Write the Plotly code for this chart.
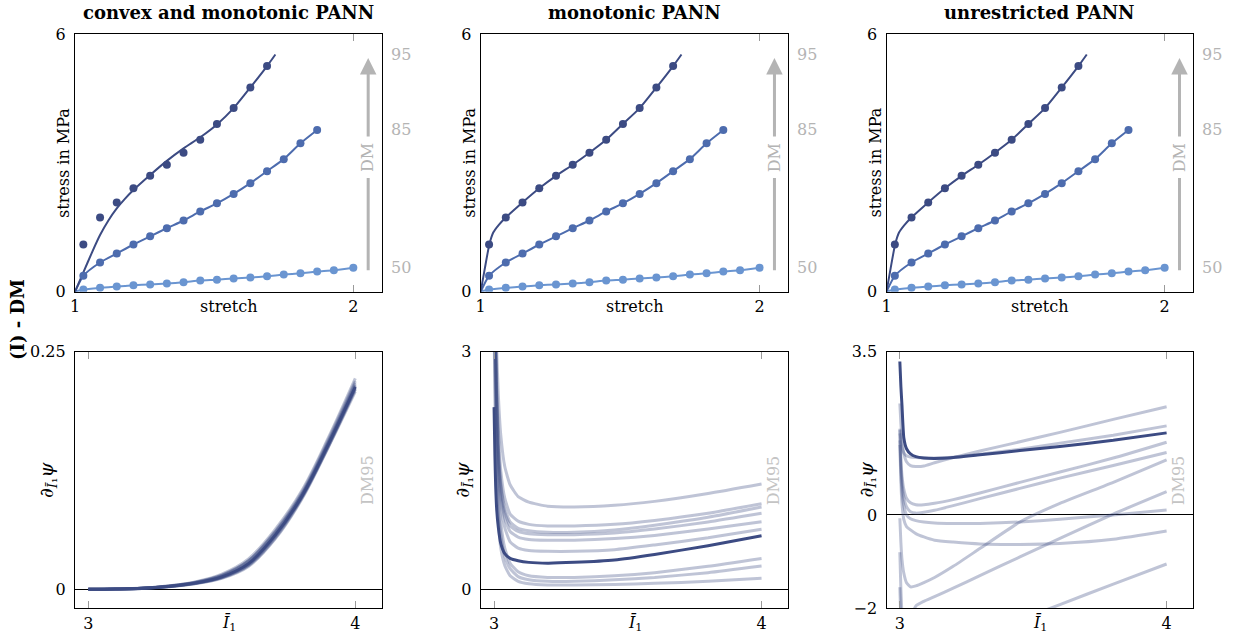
import plotly.graph_objects as go

# ---------------- data: uniaxial stress-stretch (shared across models) ----------------
STRETCH_95 = [1.03, 1.09, 1.15, 1.21, 1.27, 1.33, 1.39, 1.45, 1.51, 1.57, 1.63, 1.69]
STRESS_95 = [1.10, 1.73, 2.08, 2.41, 2.70, 2.96, 3.24, 3.54, 3.91, 4.28, 4.76, 5.26]

STRETCH_85 = [1.03, 1.09, 1.15, 1.21, 1.27, 1.33, 1.39, 1.45, 1.51, 1.57, 1.63, 1.69,
              1.75, 1.81, 1.87]
STRESS_85 = [0.37, 0.68, 0.89, 1.10, 1.29, 1.48, 1.66, 1.87, 2.06, 2.28, 2.53, 2.81,
             3.09, 3.46, 3.77]

STRETCH_50 = [1.03, 1.09, 1.15, 1.21, 1.27, 1.33, 1.39, 1.45, 1.51, 1.57, 1.63, 1.69,
              1.75, 1.81, 1.87, 1.93, 2.00]
STRESS_50 = [0.05, 0.09, 0.12, 0.15, 0.17, 0.19, 0.22, 0.26, 0.28, 0.31, 0.33, 0.36,
             0.40, 0.43, 0.47, 0.50, 0.56]

# ---------------- model predictions (stress) ----------------
# convex and monotonic PANN, DM95
CONV_95_X = [1.0, 1.03, 1.06, 1.09, 1.12, 1.15, 1.18, 1.21, 1.27, 1.33, 1.39, 1.45,
             1.51, 1.57, 1.63, 1.69, 1.72]
CONV_95_Y = [0.0, 0.45, 0.90, 1.32, 1.66, 1.94, 2.17, 2.37, 2.72, 3.05, 3.34, 3.60,
             3.90, 4.28, 4.76, 5.26, 5.53]
# monotonic / unrestricted PANN, DM95
MONO_95_X = [1.0, 1.015, 1.031, 1.045, 1.065, 1.09, 1.15, 1.21, 1.27, 1.33, 1.39, 1.45,
             1.51, 1.57, 1.63, 1.69, 1.72]
MONO_95_Y = [0.0, 0.55, 1.10, 1.38, 1.56, 1.73, 2.08, 2.41, 2.70, 2.96, 3.24, 3.54,
             3.91, 4.28, 4.76, 5.26, 5.53]
# DM85 / DM50 model curves (all three models)
MODEL_85_X = [1.0, 1.03, 1.09, 1.15, 1.21, 1.27, 1.33, 1.39, 1.45, 1.51, 1.57, 1.63,
              1.69, 1.75, 1.81, 1.87]
MODEL_85_Y = [0.0, 0.37, 0.68, 0.89, 1.10, 1.29, 1.48, 1.66, 1.87, 2.06, 2.28, 2.53,
              2.81, 3.09, 3.46, 3.77]
MODEL_50_X = [1.0, 1.03, 1.09, 1.15, 1.21, 1.27, 1.33, 1.39, 1.45, 1.51, 1.57, 1.63,
              1.69, 1.75, 1.81, 1.87, 1.93, 2.00]
MODEL_50_Y = [0.0, 0.05, 0.09, 0.12, 0.15, 0.17, 0.19, 0.22, 0.26, 0.28, 0.31, 0.33,
              0.36, 0.40, 0.43, 0.47, 0.50, 0.56]

DM_LABELS = ["95", "85", "50"]

# ---------------- derivative of the potential w.r.t. I1 ----------------
I1_CONV = [3.0, 3.1, 3.2, 3.3, 3.4, 3.5, 3.6, 3.7, 3.8, 3.9, 4.0]
CONV_DARK = [0, 0.0003, 0.0010, 0.0030, 0.0065, 0.0130, 0.027, 0.057, 0.098, 0.153, 0.213]
CONV_LIGHT = [
    [0, 0.0004, 0.0013, 0.0036, 0.0078, 0.0160, 0.032, 0.063, 0.104, 0.160, 0.222],
    [0, 0.0004, 0.0012, 0.0034, 0.0074, 0.0150, 0.030, 0.061, 0.102, 0.158, 0.219],
    [0, 0.0003, 0.0011, 0.0032, 0.0070, 0.0140, 0.029, 0.059, 0.100, 0.156, 0.217],
    [0, 0.0003, 0.0010, 0.0031, 0.0068, 0.0135, 0.028, 0.058, 0.099, 0.154, 0.215],
    [0, 0.0003, 0.0010, 0.0029, 0.0063, 0.0125, 0.026, 0.056, 0.097, 0.152, 0.211],
    [0, 0.0002, 0.0009, 0.0027, 0.0060, 0.0120, 0.025, 0.054, 0.096, 0.151, 0.210],
    [0, 0.0002, 0.0008, 0.0026, 0.0058, 0.0115, 0.024, 0.053, 0.095, 0.150, 0.208],
    [0, 0.0003, 0.0011, 0.0033, 0.0072, 0.0145, 0.030, 0.060, 0.100, 0.155, 0.214],
    [0, 0.0002, 0.0009, 0.0028, 0.0061, 0.0122, 0.0255, 0.055, 0.097, 0.151, 0.212],
]

I1_MONO = [3.0, 3.003, 3.006, 3.01, 3.016, 3.025, 3.04, 3.06, 3.09, 3.13, 3.2, 3.3,
           3.45, 3.6, 3.8, 4.0]
MONO_DARK = [2.3, 1.7, 1.3, 1.0, 0.78, 0.58, 0.45, 0.39, 0.36, 0.34, 0.33, 0.34,
             0.37, 0.44, 0.55, 0.677]
MONO_LIGHT = [
    [5.0, 4.2, 3.6, 3.0, 2.45, 1.95, 1.55, 1.32, 1.17, 1.10, 1.05, 1.04, 1.06, 1.11, 1.21, 1.33],
    [4.8, 4.0, 3.3, 2.6, 2.0, 1.5, 1.15, 0.95, 0.86, 0.82, 0.80, 0.80, 0.82, 0.87, 0.96, 1.08],
    [4.6, 3.8, 3.1, 2.4, 1.8, 1.35, 1.02, 0.85, 0.77, 0.74, 0.72, 0.72, 0.75, 0.81, 0.91, 1.04],
    [4.5, 3.7, 3.0, 2.35, 1.75, 1.3, 0.97, 0.80, 0.73, 0.70, 0.69, 0.69, 0.71, 0.76, 0.85, 0.96],
    [4.4, 3.6, 2.9, 2.25, 1.65, 1.2, 0.90, 0.73, 0.66, 0.63, 0.62, 0.62, 0.64, 0.68, 0.76, 0.854],
    [4.3, 3.5, 2.8, 2.15, 1.55, 1.1, 0.78, 0.60, 0.52, 0.49, 0.48, 0.48, 0.50, 0.56, 0.65, 0.757],
    [4.0, 3.2, 2.5, 1.9, 1.3, 0.85, 0.52, 0.33, 0.22, 0.17, 0.15, 0.15, 0.17, 0.21, 0.29, 0.39],
    [3.6, 2.8, 2.1, 1.55, 1.05, 0.70, 0.42, 0.26, 0.16, 0.12, 0.10, 0.10, 0.12, 0.15, 0.21, 0.294],
    [3.3, 2.5, 1.85, 1.3, 0.85, 0.52, 0.30, 0.17, 0.10, 0.07, 0.055, 0.055, 0.06, 0.075, 0.10, 0.139],
]

I1_UNRES = [3.0, 3.004, 3.008, 3.015, 3.025, 3.04, 3.06, 3.09, 3.13, 3.2, 3.3, 3.45,
            3.6, 3.8, 4.0]
UNRES_DARK = [3.29, 2.75, 2.35, 1.65, 1.42, 1.31, 1.25, 1.22, 1.21, 1.23, 1.29, 1.38,
              1.47, 1.60, 1.76]
UNRES_LIGHT = [
    [2.39, 1.95, 1.62, 1.32, 1.14, 1.06, 1.04, 1.05, 1.12, 1.23, 1.37, 1.57, 1.77, 2.05, 2.32],
    [1.82, 1.60, 1.45, 1.33, 1.27, 1.24, 1.23, 1.22, 1.22, 1.24, 1.30, 1.41, 1.54, 1.71, 1.91],
    [1.85, 1.20, 0.85, 0.55, 0.36, 0.26, 0.22, 0.22, 0.25, 0.33, 0.47, 0.70, 0.92, 1.22, 1.56],
    [1.75, 1.05, 0.70, 0.38, 0.18, 0.07, 0.04, 0.06, 0.10, 0.20, 0.35, 0.57, 0.79, 1.06, 1.34],
    [1.60, 0.90, 0.50, 0.20, 0.00, -0.08, -0.12, -0.15, -0.17, -0.18, -0.18, -0.15, -0.09, 0.00, 0.107],
    [1.50, 0.70, 0.25, -0.10, -0.25, -0.32, -0.40, -0.47, -0.54, -0.58, -0.62, -0.63, -0.61, -0.52, -0.343],
    [-0.07, -0.60, -0.95, -1.25, -1.45, -1.54, -1.52, -1.45, -1.34, -1.10, -0.72, -0.15, 0.25, 0.70, 1.18],
    [-0.80, -1.60, -2.10, -2.40, -2.40, -2.20, -1.95, -1.85, -1.75, -1.57, -1.30, -0.90, -0.50, 0.02, 0.50],
    [-1.55, -2.30, -2.80, -3.10, -3.20, -3.20, -3.15, -3.10, -3.00, -2.85, -2.60, -2.25, -1.92, -1.48, -1.05],
]

# ---------------- styling ----------------
FONT = "DejaVu Serif"
C95, C85, C50 = "#3c4b83", "#4d6cae", "#6a95d1"
LIGHT = "rgba(60,75,131,0.33)"
GREY = "#b4b4b4"
TICK_GREY = "#9a9a9a"

W, H = 1233, 639
COLS = [(75, 382), (480.7, 788.3), (886.5, 1193.3)]
TOP_ROW = (34.3, 291.7)
BOT_ROW = (351.7, 608.3)


def xdom(c):
    return [c[0] / W, c[1] / W]


def ydom(r):
    return [1 - r[1] / H, 1 - r[0] / H]


fig = go.Figure()


def add(trace, i):
    trace.update(xaxis="x" if i == 1 else f"x{i}", yaxis="y" if i == 1 else f"y{i}",
                 showlegend=False, hoverinfo="skip")
    fig.add_trace(trace)


# top row: stress vs stretch
for i, m95 in zip([1, 2, 3], [(CONV_95_X, CONV_95_Y), (MONO_95_X, MONO_95_Y),
                              (MONO_95_X, MONO_95_Y)]):
    for (mx, my, col) in [(MODEL_50_X, MODEL_50_Y, C50), (MODEL_85_X, MODEL_85_Y, C85),
                          (m95[0], m95[1], C95)]:
        add(go.Scatter(x=mx, y=my, mode="lines",
                       line=dict(color=col, width=2, shape="spline", smoothing=0.6)), i)
    for (sx, sy, col) in [(STRETCH_50, STRESS_50, C50), (STRETCH_85, STRESS_85, C85),
                          (STRETCH_95, STRESS_95, C95)]:
        add(go.Scatter(x=sx, y=sy, mode="markers",
                       marker=dict(color=col, size=8)), i)

# bottom row: derivative curves
for i, (xs, light, dark) in zip([4, 5, 6], [(I1_CONV, CONV_LIGHT, CONV_DARK),
                                            (I1_MONO, MONO_LIGHT, MONO_DARK),
                                            (I1_UNRES, UNRES_LIGHT, UNRES_DARK)]):
    smooth = 1.0 if i == 4 else 0.5
    for ys in light:
        add(go.Scatter(x=xs, y=ys, mode="lines",
                       line=dict(color=LIGHT, width=3, shape="spline", smoothing=smooth)), i)
    add(go.Scatter(x=xs, y=dark, mode="lines",
                   line=dict(color=C95, width=3, shape="spline", smoothing=smooth)), i)

axis_font = dict(family=FONT, size=16, color="black")
layout = dict(width=W, height=H, margin=dict(l=0, r=0, t=0, b=0, autoexpand=False),
              plot_bgcolor="white", paper_bgcolor="white",
              font=dict(family=FONT, size=16, color="black"))

Y_TOP = dict(range=[0, 6], tickvals=[0, 6], ticktext=["0", "6"])
Y_BOT = [
    dict(range=[-0.02, 0.25], tickvals=[0, 0.25], ticktext=["0", "0.25"]),
    dict(range=[-0.24, 3], tickvals=[0, 3], ticktext=["0", "3"]),
    dict(range=[-2, 3.5], tickvals=[-2, 0, 3.5], ticktext=["\u22122", "0", "3.5"]),
]

for i in range(1, 7):
    top = i <= 3
    col = COLS[(i - 1) % 3]
    xk = "xaxis" if i == 1 else f"xaxis{i}"
    yk = "yaxis" if i == 1 else f"yaxis{i}"
    ya = "y" if i == 1 else f"y{i}"
    xa = "x" if i == 1 else f"x{i}"
    xr = [1, 2.103] if top else [2.95, 4.1]
    xt = [1, 2] if top else [3, 4]
    layout[xk] = dict(domain=xdom(col), anchor=ya, range=xr, tickvals=xt,
                      ticktext=[str(v) for v in xt], ticks="inside", ticklen=7,
                      tickcolor=TICK_GREY, tickwidth=1, showline=True, linecolor="black",
                      linewidth=1.3, mirror="ticks", showgrid=False, zeroline=False,
                      tickfont=axis_font, ticklabelstandoff=0, automargin=False)
    yd = Y_TOP if top else Y_BOT[i - 4]
    layout[yk] = dict(domain=ydom(TOP_ROW if top else BOT_ROW), anchor=xa, ticks="",
                      showline=True, linecolor="black", linewidth=1.3, mirror=True,
                      showgrid=False, zeroline=not top, zerolinecolor="black",
                      zerolinewidth=1, tickfont=axis_font, ticklabelstandoff=5,
                      automargin=False, **yd)

fig.update_layout(**layout)

ann = []
TITLES = ["<b>convex and monotonic PANN</b>", "<b>monotonic PANN</b>",
          "<b>unrestricted PANN</b>"]
for k, (t, col) in enumerate(zip(TITLES, COLS)):
    ann.append(dict(text=t, xref="paper", yref="paper", x=(col[0] + col[1]) / 2 / W,
                    y=1 - 12 / H, xanchor="center", yanchor="middle", showarrow=False,
                    font=dict(family=FONT, size=18, color="black")))

DPSI = "\u2202<sub><i>\u012a</i>\u2081</sub><i>\u03c8</i>"
IBAR = "<i>\u012a</i><sub>1</sub>"
ENDS = [CONV_95_Y[-1], MODEL_85_Y[-1], MODEL_50_Y[-1]]
DPSI_SHIFT = {4: -28, 5: -18, 6: -20}
for i in range(1, 7):
    xd = ("x" if i == 1 else f"x{i}") + " domain"
    yd = ("y" if i == 1 else f"y{i}") + " domain"
    yref = "y" if i == 1 else f"y{i}"
    if i <= 3:
        ann.append(dict(text="stretch", xref=xd, yref=yd, x=0.5, y=0, yshift=-15,
                        xanchor="center", yanchor="middle", showarrow=False))
        ann.append(dict(text="stress in MPa", xref=xd, yref=yd, x=0, y=0.5, xshift=-12,
                        xanchor="center", yanchor="middle", textangle=-90, showarrow=False))
        for lab, v in zip(DM_LABELS, ENDS):
            ann.append(dict(text=lab, xref=xd, yref=yref, x=1, y=v, xshift=7,
                            xanchor="left", yanchor="middle", showarrow=False,
                            font=dict(family=FONT, size=16, color=GREY)))
        # DM arrow
        ann.append(dict(text="", xref=xd, yref=yref, x=0.955, y=5.45, axref=xd, ayref=yref,
                        ax=0.955, ay=3.58, showarrow=True, arrowhead=2, arrowsize=1.1,
                        arrowwidth=3, arrowcolor=GREY))
        ann.append(dict(text="DM", xref=xd, yref=yref, x=0.955, y=3.12, xanchor="center",
                        yanchor="middle", textangle=-90, showarrow=False,
                        font=dict(family=FONT, size=16, color=GREY)))
        fig.add_shape(type="line", xref=xd, yref=yref, x0=0.955, x1=0.955, y0=0.5, y1=2.65,
                      line=dict(color=GREY, width=3))
    else:
        ann.append(dict(text=IBAR, xref=xd, yref=yd, x=0.5, y=0, yshift=-15,
                        xanchor="center", yanchor="middle", showarrow=False))
        ann.append(dict(text=DPSI, xref=xd, yref=yd, x=0, y=0.5, xshift=DPSI_SHIFT[i],
                        xanchor="center", yanchor="middle", textangle=-90, showarrow=False,
                        font=dict(family=FONT, size=19, color="black")))
        ann.append(dict(text="DM95", xref=xd, yref=yd, x=1, y=0.5, xshift=-15,
                        xanchor="center", yanchor="middle", textangle=-90, showarrow=False,
                        font=dict(family=FONT, size=16, color="#c4c4c4")))

ann.append(dict(text="<b>(I) - DM</b>", xref="paper", yref="paper", x=17 / W,
                y=1 - 320 / H, xanchor="center", yanchor="middle", textangle=-90,
                showarrow=False, font=dict(family=FONT, size=18, color="black")))

fig.update_layout(annotations=ann)
fig.write_html("out.html")
